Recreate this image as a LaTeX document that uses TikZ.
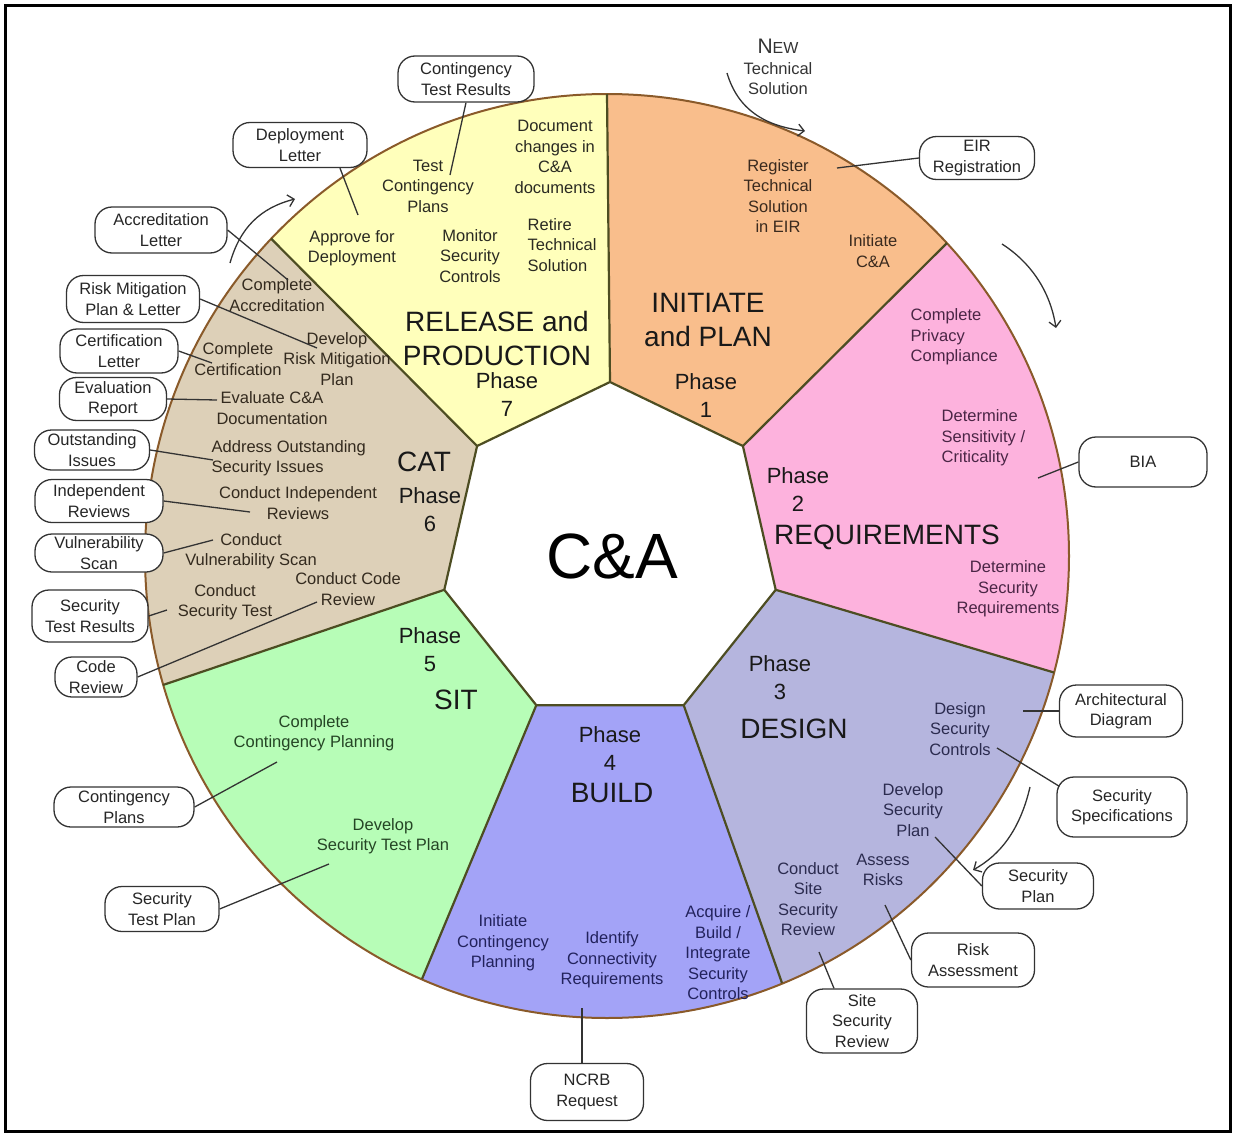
\documentclass[tikz,border=0pt]{standalone}
\usepackage{fontspec}
\setmainfont{Liberation Sans}
\usetikzlibrary{calc,arrows.meta}

% sector fills
\definecolor{relY}{HTML}{FFFFBB}
\definecolor{iniO}{HTML}{F9BE8C}
\definecolor{reqP}{HTML}{FDB2DD}
\definecolor{desG}{HTML}{B5B5DE}
\definecolor{bldB}{HTML}{A3A3F7}
\definecolor{sitG}{HTML}{B7FDB7}
\definecolor{catT}{HTML}{DDD0B8}
% lines and text
\definecolor{divC}{HTML}{4D4D22}
\definecolor{arcC}{HTML}{8A5A2A}
\definecolor{lnC}{HTML}{333333}
\definecolor{txY}{HTML}{2A2A22}
\definecolor{txO}{HTML}{3A2A1E}
\definecolor{txP}{HTML}{4A2545}
\definecolor{txD}{HTML}{2B2B4F}
\definecolor{txB}{HTML}{22225C}
\definecolor{txG}{HTML}{254525}
\definecolor{txT}{HTML}{332A1E}

\begin{document}
\begin{tikzpicture}[x=1pt,y=-1pt,
  divider/.style={draw=divC,line width=2.2pt},
  ttl/.style={font=\fontsize{28}{33.5}\selectfont,align=center,text=black!90,inner sep=0pt},
  phs/.style={font=\fontsize{22}{28}\selectfont,align=center,text=black!90,inner sep=0pt},
  task/.style={font=\fontsize{16.5}{20.5}\selectfont,align=center,inner sep=0.5pt},
  callout/.style={draw=lnC,line width=1.3pt,fill=white,rounded corners=17pt,
    font=\fontsize{16.5}{20.5}\selectfont,align=center,text=black!85,inner sep=0pt},
  ln/.style={draw=lnC,line width=1.3pt},
  arr/.style={draw=lnC,line width=1.3pt,-{Straight Barb[length=6pt,width=12pt]}}
]
\useasboundingbox (0,0) rectangle (1235,1135);
\draw[line width=3pt] (5,5) rectangle (1230,1131);

% wheel geometry
\coordinate (O) at (607,556);
\coordinate (H1) at (610,382);
\coordinate (H2) at (742.9,446);
\coordinate (H3) at (775.7,589.8);
\coordinate (H4) at (683.7,705.2);
\coordinate (H5) at (536.3,705.2);
\coordinate (H6) at (444.3,589.8);
\coordinate (H7) at (477.1,446);
\coordinate (P1) at (607,94);
\coordinate (P2) at (947,243);
\coordinate (P3) at (1054,672.5);
\coordinate (P4) at (782,983);
\coordinate (P5) at (422,979);
\coordinate (P6) at (163,685);
\coordinate (P7) at (271,238.5);

% seven phase sectors
\foreach \a/\b/\c in {7/1/relY,1/2/iniO,2/3/reqP,3/4/desG,4/5/bldB,5/6/sitG,6/7/catT}{
  \begin{scope}
    \clip (H\a) -- (P\a) -- ($(O)!1.6!(P\a)$) -- ($(O)!1.6!(P\b)$) -- (P\b) -- (H\b) -- cycle;
    \fill[\c] (O) circle[radius=462pt];
  \end{scope}
}
\draw[arcC,line width=2pt] (O) circle[radius=462pt];
\foreach \i in {1,...,7}{\draw[divider] (H\i) -- (P\i);}
\draw[divider,fill=white] (H1) -- (H2) -- (H3) -- (H4) -- (H5) -- (H6) -- (H7) -- cycle;

% hub
\node[font=\fontsize{64}{64}\selectfont,inner sep=0pt] (hub) at (612,556) {C\&A};

% phase titles
\node[ttl] (t7) at (497,338.5) {RELEASE and\\PRODUCTION};
\node[phs] (p7) at (507,395) {Phase\\7};
\node[ttl] (t1) at (708,320) {INITIATE\\and PLAN};
\node[phs] (p1) at (706,396) {Phase\\1};
\node[phs] (p2) at (798,490) {Phase\\2};
\node[ttl] (t2) at (887,537) {REQUIREMENTS};
\node[phs] (p3) at (780,678) {Phase\\3};
\node[ttl] (t3) at (794,729) {DESIGN};
\node[phs] (p4) at (610,749) {Phase\\4};
\node[ttl] (t4) at (612,793) {BUILD};
\node[phs] (p5) at (430,650) {Phase\\5};
\node[ttl] (t5) at (456,700) {SIT};
\node[ttl] (t6) at (424,462) {CAT};
\node[phs] (p6) at (430,510) {Phase\\6};

% release and production tasks
\node[task,text=txY] (r1) at (428,186) {Test\\Contingency\\Plans};
\node[task,text=txY] (r2) at (555,157) {Document\\changes in\\C\&A\\documents};
\node[task,text=txY] (r3) at (352,248) {Approve for\\Deployment};
\node[task,text=txY] (r4) at (470,256) {Monitor\\Security\\Controls};
\node[task,text=txY,anchor=west,align=left] (r5) at (527,245) {Retire\\Technical\\Solution};

% initiate and plan tasks
\node[task,text=txO] (i1) at (778,196) {Register\\Technical\\Solution\\in EIR};
\node[task,text=txO] (i2) at (873,251) {Initiate\\C\&A};
\node[task,text=black!80] (nw) at (778,67)
  {{\fontsize{21}{21.5}\selectfont N\fontsize{16}{21.5}\selectfont EW}\\Technical\\Solution};

% requirements tasks
\node[task,text=txP,anchor=west,align=left] (q1) at (910,337) {Complete\\Privacy\\Compliance};
\node[task,text=txP,anchor=west,align=left] (q2) at (941,438) {Determine\\Sensitivity /\\Criticality};
\node[task,text=txP] (q3) at (1008,589) {Determine\\Security\\Requirements};

% design tasks
\node[task,text=txD] (d1) at (960,729) {Design\\Security\\Controls};
\node[task,text=txD] (d2) at (913,810) {Develop\\Security\\Plan};
\node[task,text=txD] (d3) at (883,870) {Assess\\Risks};
\node[task,text=txD] (d4) at (808,899) {Conduct\\Site\\Security\\Review};

% build tasks
\node[task,text=txB] (b1) at (503,943) {Initiate\\Contingency\\Planning};
\node[task,text=txB] (b2) at (612,960) {Identify\\Connectivity\\Requirements};
\node[task,text=txB] (b3) at (718,953) {Acquire /\\Build /\\Integrate\\Security\\Controls};

% SIT tasks
\node[task,text=txG] (s1) at (314,733) {Complete\\Contingency Planning};
\node[task,text=txG] (s2) at (383,836) {Develop\\Security Test Plan};

% CAT tasks
\node[task,text=txT] (c1) at (277,295) {Complete\\Accreditation};
\node[task,text=txT] (c2) at (337,359) {Develop\\Risk Mitigation\\Plan};
\node[task,text=txT] (c3) at (238,359) {Complete\\Certification};
\node[task,text=txT] (c4) at (272,408) {Evaluate C\&A\\Documentation};
\node[task,text=txT,anchor=west,align=left] (c5) at (211,458) {Address Outstanding\\Security Issues};
\node[task,text=txT] (c6) at (298,503) {Conduct Independent\\Reviews};
\node[task,text=txT] (c7) at (251,551) {Conduct\\Vulnerability Scan};
\node[task,text=txT] (c8) at (225,602) {Conduct\\Security Test};
\node[task,text=txT] (c9) at (348,589) {Conduct Code\\Review};

% deliverables
\node[callout,minimum width=136pt,minimum height=46pt] (kTR) at (466,79) {Contingency\\Test Results};
\node[callout,minimum width=134pt,minimum height=45pt] (kDL) at (300,145) {Deployment\\Letter};
\node[callout,minimum width=132pt,minimum height=46pt] (kAL) at (161,230) {Accreditation\\Letter};
\node[callout,minimum width=133pt,minimum height=47pt] (kRM) at (133,299) {Risk Mitigation\\Plan \& Letter};
\node[callout,minimum width=118pt,minimum height=44pt] (kCL) at (119,351) {Certification\\Letter};
\node[callout,minimum width=107pt,minimum height=43pt] (kER) at (113,399) {Evaluation\\Report};
\node[callout,minimum width=115pt,minimum height=40pt] (kOI) at (92,450) {Outstanding\\Issues};
\node[callout,minimum width=128pt,minimum height=43pt] (kIR) at (99,501) {Independent\\Reviews};
\node[callout,minimum width=128pt,minimum height=38pt] (kVS) at (99,553) {Vulnerability\\Scan};
\node[callout,minimum width=116pt,minimum height=52pt] (kST) at (90,616) {Security\\Test Results};
\node[callout,minimum width=82pt,minimum height=40pt] (kCR) at (96,677) {Code\\Review};
\node[callout,minimum width=140pt,minimum height=40pt] (kCP) at (124,807) {Contingency\\Plans};
\node[callout,minimum width=114pt,minimum height=45pt] (kSP) at (162,909) {Security\\Test Plan};
\node[callout,minimum width=113pt,minimum height=57pt] (kNC) at (587,1092) {NCRB\\Request};
\node[callout,minimum width=111pt,minimum height=64pt] (kSR) at (862,1021) {Site\\Security\\Review};
\node[callout,minimum width=123pt,minimum height=54pt] (kRA) at (973,960) {Risk\\Assessment};
\node[callout,minimum width=111pt,minimum height=46pt] (kPl) at (1038,886) {Security\\Plan};
\node[callout,minimum width=130pt,minimum height=60pt] (kSS) at (1122,807) {Security\\Specifications};
\node[callout,minimum width=123pt,minimum height=52pt] (kAD) at (1121,711) {Architectural\\Diagram};
\node[callout,minimum width=128pt,minimum height=50pt] (kBI) at (1143,462) {BIA};
\node[callout,minimum width=115pt,minimum height=43pt] (kEI) at (977,158) {EIR\\Registration};

% inner ends of the deliverable leaders
\coordinate (eTR) at (450,175);
\coordinate (eDL) at (358,215);
\coordinate (eAL) at (288,280);
\coordinate (eRM) at (317,348);
\coordinate (eCL) at (212,363);
\coordinate (eER) at (217,400);
\coordinate (eOI) at (213,460);
\coordinate (eIR) at (250,512);
\coordinate (eVS) at (213,540);
\coordinate (eST) at (167,610);
\coordinate (eCR) at (317,602);
\coordinate (eCP) at (277,762);
\coordinate (eSP) at (329,864);
\coordinate (eNC) at (582,1008);
\coordinate (eSR) at (819,952);
\coordinate (eRA) at (885,905);
\coordinate (ePl) at (935,837);
\coordinate (eSS) at (997,748);
\coordinate (eAD) at (1023,711);
\coordinate (eBI) at (1038,478);
\coordinate (eEI) at (837,168);

\draw[ln] (kTR.south) -- (eTR);
\draw[ln] ($(kDL.south)+(40,0)$) -- (eDL);
\draw[ln] (kAL.east) -- (eAL);
\draw[ln] (kRM.east) -- (eRM);
\draw[ln] (kCL.east) -- (eCL);
\draw[ln] (kER.east) -- (eER);
\draw[ln] (kOI.east) -- (eOI);
\draw[ln] (kIR.east) -- (eIR);
\draw[ln] (kVS.east) -- (eVS);
\draw[ln] (kST.east) -- (eST);
\draw[ln] (kCR.east) -- (eCR);
\draw[ln] (kCP.east) -- (eCP);
\draw[ln] (kSP.east) -- (eSP);
\draw[ln] (eNC |- kNC.north) -- (eNC);
\draw[ln] ($(kSR.north)+(-28,0)$) -- (eSR);
\draw[ln] (kRA.west) -- (eRA);
\draw[ln] (kPl.west) -- (ePl);
\draw[ln] ($(kSS.north west)+(3,10)$) -- (eSS);
\draw[ln] (kAD.west) -- (eAD);
\draw[ln] (kBI.west) -- (eBI);
\draw[ln] (kEI.west) -- (eEI);

% cycle arrows round the wheel
\coordinate (aL0) at (230,263);
\coordinate (aL1) at (295,199);
\coordinate (aT0) at (727,73);
\coordinate (aT1) at (805,131);
\coordinate (aR0) at (1002,244);
\coordinate (aR1) at (1056,328);
\coordinate (aD0) at (1030,787);
\coordinate (aD1) at (973,870);
\draw[arr] (aL0) .. controls (240,228) and (260,208) .. (aL1);
\draw[arr] (aT0) .. controls (738,110) and (765,126) .. (aT1);
\draw[arr] (aR0) .. controls (1030,262) and (1050,290) .. (aR1);
\draw[arr] (aD0) .. controls (1020,830) and (1000,855) .. (aD1);
\end{tikzpicture}
\end{document}
